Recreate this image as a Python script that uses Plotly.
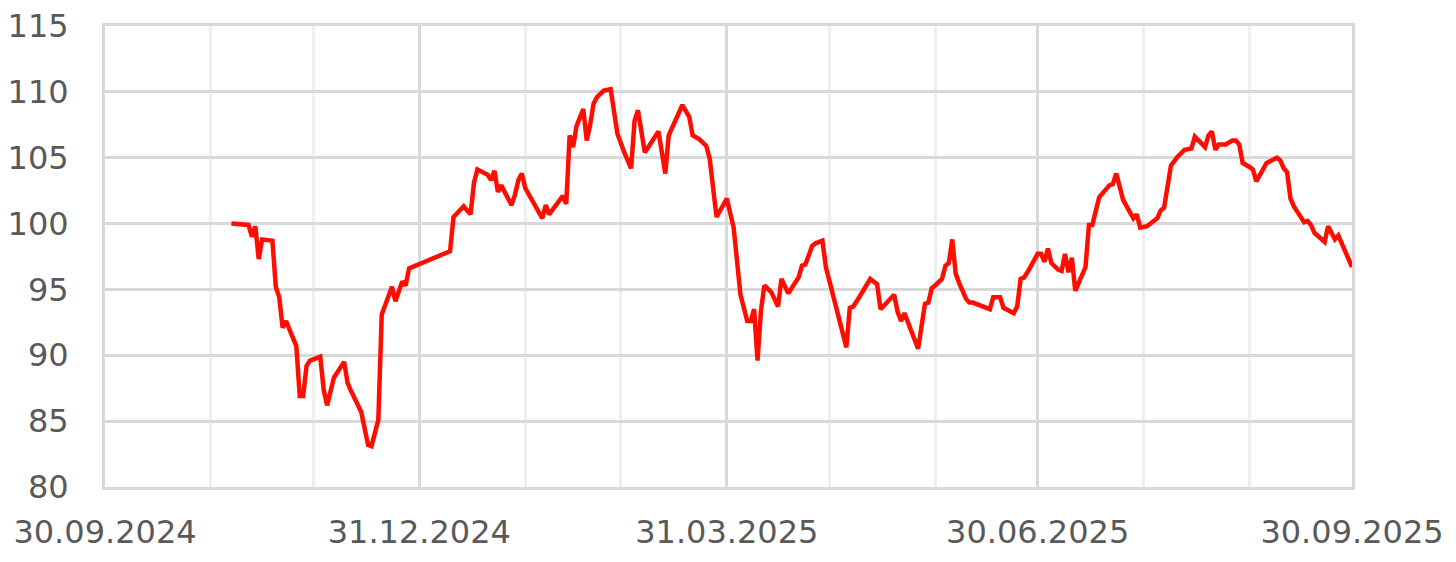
import plotly.graph_objects as go

dates = [
    "2024-11-06", "2024-11-11", "2024-11-12", "2024-11-13", "2024-11-14", "2024-11-15",
    "2024-11-18", "2024-11-19", "2024-11-20", "2024-11-21", "2024-11-22", "2024-11-25",
    "2024-11-26", "2024-11-27", "2024-11-28", "2024-11-29", "2024-12-02", "2024-12-03",
    "2024-12-04", "2024-12-06", "2024-12-09", "2024-12-10", "2024-12-11", "2024-12-13",
    "2024-12-14", "2024-12-16", "2024-12-17", "2024-12-19", "2024-12-20", "2024-12-23",
    "2024-12-24", "2024-12-26", "2024-12-27", "2024-12-28",
    "2025-01-09", "2025-01-10", "2025-01-13", "2025-01-15", "2025-01-16", "2025-01-17",
    "2025-01-20", "2025-01-21", "2025-01-22", "2025-01-23", "2025-01-24", "2025-01-27",
    "2025-01-28", "2025-01-29", "2025-01-30", "2025-01-31",
    "2025-02-03", "2025-02-05", "2025-02-06", "2025-02-07", "2025-02-09", "2025-02-11",
    "2025-02-12", "2025-02-13", "2025-02-14", "2025-02-15", "2025-02-17", "2025-02-18",
    "2025-02-19", "2025-02-20", "2025-02-21", "2025-02-23", "2025-02-25", "2025-02-27",
    "2025-03-01", "2025-03-03", "2025-03-04", "2025-03-05", "2025-03-07", "2025-03-10",
    "2025-03-11", "2025-03-13", "2025-03-14", "2025-03-18", "2025-03-20", "2025-03-21",
    "2025-03-23", "2025-03-25", "2025-03-26", "2025-03-28", "2025-03-31",
    "2025-04-02", "2025-04-04", "2025-04-06", "2025-04-07", "2025-04-08", "2025-04-09",
    "2025-04-10", "2025-04-11", "2025-04-13", "2025-04-15", "2025-04-16", "2025-04-18",
    "2025-04-21", "2025-04-22", "2025-04-23", "2025-04-25", "2025-04-26", "2025-04-28",
    "2025-04-29",
    "2025-05-01", "2025-05-05", "2025-05-06", "2025-05-07", "2025-05-09", "2025-05-12",
    "2025-05-14", "2025-05-15", "2025-05-19", "2025-05-20", "2025-05-21", "2025-05-22",
    "2025-05-26", "2025-05-28", "2025-05-29", "2025-05-30", "2025-05-31",
    "2025-06-02", "2025-06-03", "2025-06-04", "2025-06-05", "2025-06-06", "2025-06-07",
    "2025-06-09", "2025-06-10", "2025-06-11", "2025-06-16", "2025-06-17", "2025-06-19",
    "2025-06-20", "2025-06-23", "2025-06-24", "2025-06-25", "2025-06-26", "2025-06-27",
    "2025-06-30",
    "2025-07-01", "2025-07-02", "2025-07-03", "2025-07-04", "2025-07-06", "2025-07-07",
    "2025-07-08", "2025-07-09", "2025-07-10", "2025-07-11", "2025-07-14", "2025-07-15",
    "2025-07-16", "2025-07-18", "2025-07-21", "2025-07-22", "2025-07-23", "2025-07-24",
    "2025-07-25", "2025-07-28", "2025-07-29", "2025-07-30",
    "2025-08-01", "2025-08-04", "2025-08-05", "2025-08-06", "2025-08-08", "2025-08-10",
    "2025-08-12", "2025-08-14", "2025-08-15", "2025-08-18", "2025-08-19", "2025-08-20",
    "2025-08-21", "2025-08-22", "2025-08-24", "2025-08-26", "2025-08-27", "2025-08-28",
    "2025-08-29", "2025-08-31",
    "2025-09-01", "2025-09-02", "2025-09-03", "2025-09-05", "2025-09-08", "2025-09-09",
    "2025-09-10", "2025-09-11", "2025-09-12", "2025-09-13", "2025-09-16", "2025-09-17",
    "2025-09-18", "2025-09-19", "2025-09-22", "2025-09-23", "2025-09-25", "2025-09-26",
    "2025-09-30",
]

values = [
    100.0, 99.9, 99.0, 99.8, 97.3, 98.8,
    98.7, 95.2, 94.4, 92.1, 92.6, 90.7,
    86.9, 86.9, 89.2, 89.6, 89.9, 87.4,
    86.2, 88.3, 89.5, 87.9, 87.3, 86.2,
    85.7, 83.2, 83.1, 85.1, 93.1, 95.2,
    94.1, 95.6, 95.3, 96.6,
    97.9, 100.5, 101.3, 100.7, 103.1, 104.1,
    103.7, 103.3, 104.0, 102.4, 102.9, 101.4,
    102.2, 103.3, 103.8, 102.7,
    101.3, 100.4, 101.4, 100.7, 101.4, 102.1,
    101.5, 106.7, 105.8, 107.4, 108.7, 106.3,
    107.5, 109.1, 109.6, 110.1, 110.2, 106.8,
    105.4, 104.2, 107.8, 108.6, 105.4, 106.7,
    107.0, 103.8, 106.7, 109.0, 108.1, 106.7,
    106.4, 105.9, 104.9, 100.5, 101.9,
    99.7, 94.6, 92.6, 92.6, 93.5, 89.6,
    93.4, 95.3, 94.8, 93.7, 95.8, 94.7,
    95.9, 96.8, 96.9, 98.3, 98.5, 98.7,
    96.7,
    94.7, 90.6, 93.6, 93.7, 94.5, 95.8,
    95.4, 93.5, 94.6, 93.3, 92.6, 93.2,
    90.5, 93.9, 94.0, 95.1, 95.3,
    95.8, 96.8, 97.0, 98.8, 96.2, 95.5,
    94.3, 94.0, 94.0, 93.5, 94.4, 94.4,
    93.6, 93.2, 93.7, 95.8, 95.9, 96.3,
    97.7,
    97.7, 97.1, 98.1, 97.0, 96.5, 96.4,
    97.7, 96.3, 97.4, 94.9, 96.7, 99.9,
    99.9, 102.0, 102.9, 103.0, 103.8, 102.6,
    101.8, 100.4, 100.7, 99.7,
    99.8, 100.4, 101.0, 101.2, 104.4, 105.1,
    105.6, 105.7, 106.6, 105.8, 106.7, 107.0,
    105.6, 106.0, 106.0, 106.3, 106.3, 106.0,
    104.6, 104.3,
    104.1, 103.2, 103.7, 104.6, 105.0, 104.8,
    104.2, 103.9, 101.9, 101.3, 100.1, 100.2,
    99.9, 99.3, 98.6, 99.8, 98.8, 99.1,
    96.7,
]

quarter_ticks = ["2024-09-30", "2024-12-31", "2025-03-31", "2025-06-30", "2025-09-30"]
quarter_labels = ["30.09.2024", "31.12.2024", "31.03.2025", "30.06.2025", "30.09.2025"]
month_ends = ["2024-10-31", "2024-11-30", "2025-01-31", "2025-02-28",
              "2025-04-30", "2025-05-31", "2025-07-31", "2025-08-31"]
y_ticks = [80, 85, 90, 95, 100, 105, 110, 115]

fig = go.Figure()
fig.add_trace(go.Scatter(
    x=dates, y=values, mode="lines",
    line=dict(color="#ff0d00", width=4.5),
    hoverinfo="skip", showlegend=False,
))

grid_c = "#d9d9d9"
fig.update_layout(
    width=1456, height=562,
    margin=dict(l=105, r=104, t=26, b=75, autoexpand=False),
    paper_bgcolor="white", plot_bgcolor="white",
    font=dict(family="DejaVu Sans", size=32, color="#595959"),
    xaxis=dict(
        type="date", automargin=False,
        range=[quarter_ticks[0], quarter_ticks[-1]],
        tickmode="array", tickvals=quarter_ticks, ticktext=quarter_labels,
        showgrid=True, gridcolor=grid_c, gridwidth=3,
        showline=True, linecolor=grid_c, linewidth=3, mirror=True,
        zeroline=False, ticks="", ticklabelstandoff=15,
        minor=dict(tickvals=month_ends, showgrid=True, gridcolor="#efefef", gridwidth=3),
    ),
    yaxis=dict(
        automargin=False,
        range=[80, 115],
        tickmode="array", tickvals=y_ticks,
        showgrid=True, gridcolor=grid_c, gridwidth=3,
        showline=True, linecolor=grid_c, linewidth=3, mirror=True,
        zeroline=False, ticks="", ticklabelstandoff=27,
    ),
)

fig.write_html(
    "out.html",
    config={"displayModeBar": False, "staticPlot": True},
    post_script="document.body.style.margin='0';document.body.style.overflow='hidden';",
)
